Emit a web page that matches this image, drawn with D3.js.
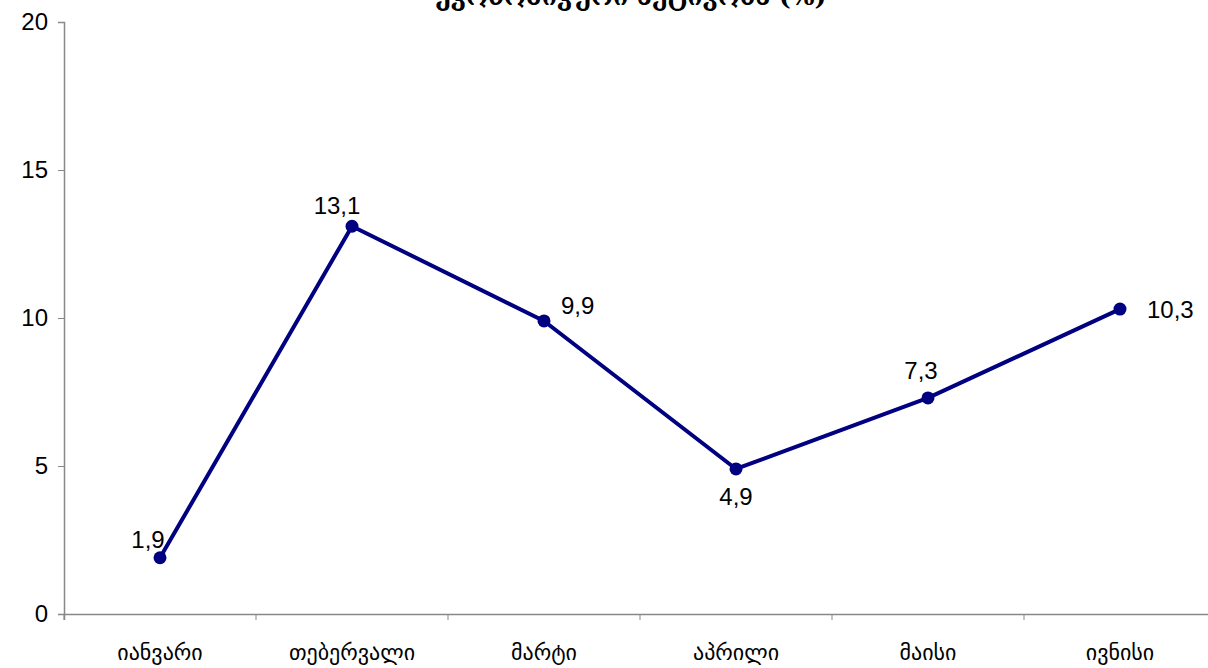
<!DOCTYPE html>
<html><head><meta charset="utf-8">
<script src="https://cdn.jsdelivr.net/npm/d3@7"></script>
<style>body{margin:0;background:#fff}svg{display:block}</style>
</head><body>
<svg id="c" width="1208" height="668"></svg>
<script>
const categories = ["იანვარი","თებერვალი","მარტი","აპრილი","მაისი","ივნისი"];
const values = [1.9, 13.1, 9.9, 4.9, 7.3, 10.3];
const yTicks = [0, 5, 10, 15, 20];
const title = "ეკონომიკური აქტივობა (%)";

// label placement (layout, px offsets from the marker)
const labelOffsets = [[-12,-10,"middle"],[-15,-12,"middle"],[17,-7,"start"],[0,36,"middle"],[-7,-19,"middle"],[27,9,"start"]];

const svg = d3.select("#c");
const x = d3.scaleBand().domain(categories).range([64, 1216]);
const y = d3.scaleLinear().domain([0, 20]).range([614, 22]);
const fmt = v => String(v).replace(".", ",");

svg.append("text").attr("x", 631).attr("y", 5).attr("text-anchor","middle")
  .attr("font-family","DejaVu Serif").attr("font-weight","bold").attr("font-size",25)
  .text(title);

const yAxis = svg.append("g").attr("transform","translate(64,0)")
  .call(d3.axisLeft(y).tickValues(yTicks).tickSize(6).tickPadding(10));
const xAxis = svg.append("g").attr("transform","translate(0,614)")
  .call(d3.axisBottom(x).tickSize(6).tickSizeOuter(6));
xAxis.selectAll(".tick line").attr("x1", -x.bandwidth()/2).attr("x2", -x.bandwidth()/2);
[yAxis, xAxis].forEach(a => {
  a.selectAll(".domain").attr("stroke","#888").attr("stroke-width",1.5);
  a.selectAll(".tick line").attr("stroke","#888");
});
yAxis.selectAll("text").attr("font-family","Liberation Sans").attr("font-size",24).attr("fill","#000");
xAxis.selectAll("text").attr("font-family","DejaVu Sans").attr("font-size",22).attr("fill","#000")
  .attr("dy",null).attr("y",46);

const pts = categories.map((c,i)=>({c, v:values[i], o:labelOffsets[i]}));
const cx = d => x(d.c) + x.bandwidth()/2;
svg.append("path").datum(pts)
  .attr("d", d3.line().x(cx).y(d=>y(d.v)))
  .attr("fill","none").attr("stroke","#000080").attr("stroke-width",4).attr("stroke-linejoin","round");
svg.selectAll("circle.m").data(pts).join("circle").attr("class","m")
  .attr("cx",cx).attr("cy",d=>y(d.v)).attr("r",6.5).attr("fill","#000080");

svg.selectAll("text.lbl").data(pts).join("text").attr("class","lbl")
  .attr("x", d => cx(d) + d.o[0])
  .attr("y", d => y(d.v) + d.o[1])
  .attr("text-anchor", d => d.o[2])
  .attr("font-family","Liberation Sans").attr("font-size",24).attr("fill","#000")
  .text(d => fmt(d.v));
</script>
</body></html>
